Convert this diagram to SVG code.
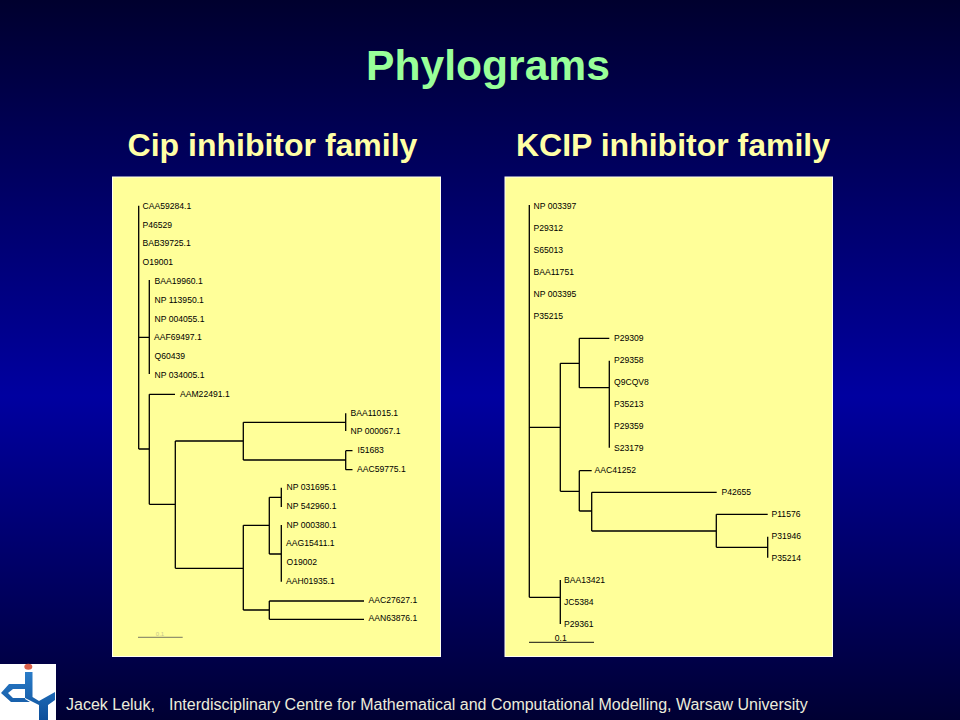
<svg xmlns="http://www.w3.org/2000/svg" width="960" height="720" viewBox="0 0 960 720">
<defs>
<linearGradient id="bg" x1="0" y1="0" x2="0" y2="1">
<stop offset="0" stop-color="#00002e"/>
<stop offset="0.55" stop-color="#0000a0"/>
<stop offset="1" stop-color="#000033"/>
</linearGradient>
<linearGradient id="logoBlue" x1="0" y1="0" x2="0" y2="1">
<stop offset="0" stop-color="#2a7cc8"/>
<stop offset="1" stop-color="#0d4f9a"/>
</linearGradient>
</defs>
<style>
.panel{fill:#ffff99;stroke:#fffff0;stroke-width:1}
.tree path{fill:none;stroke:#000;stroke-width:1.3}
.leaf{font:8.6px "Liberation Sans",Arial,sans-serif;fill:#000}
.head{font:bold 32px "Liberation Sans",Arial,sans-serif;fill:#ffffa6;text-anchor:middle}
</style>
<rect width="960" height="720" fill="url(#bg)"/>
<text x="488" y="80" text-anchor="middle" style="font:bold 42.6px 'Liberation Sans',Arial,sans-serif;fill:#99ff99">Phylograms</text>
<text class="head" x="272.500" y="156">Cip inhibitor family</text>
<text class="head" x="673" y="156">KCIP inhibitor family</text>
<g id="panel-cip">
<rect class="panel" x="112.500" y="177" width="328" height="479.500"/>
<g class="tree" id="connectors-cip"><path d="M138.700 205.700V449M138.700 337.300H149.300M149.300 280V374M138.700 449H149.300M149.300 394.300V504.300M149.300 394.300H175M149.300 504.300H175.300M175.300 441V568.300M175.300 441H243.300M243.300 422.300V460M243.300 422.300H345.700M345.700 413.300V431M243.300 460H345.700M345.700 450.700V469.700M345.700 450.700H352.500M345.700 469.700H352.500M175.300 568.300H243.300M243.300 525.300V610M243.300 525.300H269.300M269.300 497.300V554M269.300 497.300H281.300M281.300 487.700V507M269.300 554H281.300M281.300 525V581.700M243.300 610H269.300M269.300 601V619.300M269.300 601H364M269.300 619.300H364"/></g>
<path d="M138 637.300H182.700" stroke="#555" stroke-width="0.8" fill="none"/>
<text x="160" y="636" text-anchor="middle" style="font:6px 'Liberation Sans',Arial,sans-serif;fill:#c8c88c">0.1</text>
<g id="leaves-cip" transform="translate(0,-0.7)">
<text class="leaf" x="142.500" y="210">CAA59284.1</text>
<text class="leaf" x="142.500" y="228.800">P46529</text>
<text class="leaf" x="142.500" y="247">BAB39725.1</text>
<text class="leaf" x="142.500" y="265.800">O19001</text>
<text class="leaf" x="154.500" y="284.700">BAA19960.1</text>
<text class="leaf" x="154.500" y="303.500">NP 113950.1</text>
<text class="leaf" x="154.500" y="322.500">NP 004055.1</text>
<text class="leaf" x="154" y="340.800">AAF69497.1</text>
<text class="leaf" x="154.500" y="359.700">Q60439</text>
<text class="leaf" x="154.500" y="378.500">NP 034005.1</text>
<text class="leaf" x="180" y="397.500">AAM22491.1</text>
<text class="leaf" x="350.500" y="416.300">BAA11015.1</text>
<text class="leaf" x="350.500" y="434.500">NP 000067.1</text>
<text class="leaf" x="357.500" y="453.500">I51683</text>
<text class="leaf" x="357" y="472.500">AAC59775.1</text>
<text class="leaf" x="286.500" y="491">NP 031695.1</text>
<text class="leaf" x="286.500" y="510">NP 542960.1</text>
<text class="leaf" x="286.500" y="528.500">NP 000380.1</text>
<text class="leaf" x="286" y="547">AAG15411.1</text>
<text class="leaf" x="286.500" y="566">O19002</text>
<text class="leaf" x="286" y="585">AAH01935.1</text>
<text class="leaf" x="368.500" y="604">AAC27627.1</text>
<text class="leaf" x="368.500" y="622">AAN63876.1</text>
</g>
</g>
<g id="panel-kcip">
<rect class="panel" x="505" y="177" width="327.500" height="479.500"/>
<g class="tree" id="connectors-kcip"><path d="M529.300 205V597.300M529.300 427.300H560.300M560.300 363.300V491.300M560.300 363.300H579.300M579.300 338.300V387.700M579.300 338.300H609.300M579.300 387.700H609.300M609.300 360.700V447.700M560.300 491.300H579.300M579.300 470.700V511M579.300 470.700H591.700M579.300 511H591.700M591.700 492.300V531M591.700 492.300H716.700M591.700 531H716.300M716.300 514.300V547.300M716.300 514.300H767.700M716.300 547.300H767.700M767.700 536.700V557.700M529.300 597.300H560.300M560.300 580V624"/></g>
<path d="M529 642.300H594" stroke="#111" stroke-width="1" fill="none"/>
<text class="leaf" x="560.700" y="640.500" text-anchor="middle">0.1</text>
<g id="leaves-kcip" transform="translate(0,-0.7)">
<text class="leaf" x="533.500" y="210">NP 003397</text>
<text class="leaf" x="533.500" y="232">P29312</text>
<text class="leaf" x="533.500" y="254">S65013</text>
<text class="leaf" x="533.500" y="276">BAA11751</text>
<text class="leaf" x="533.500" y="298">NP 003395</text>
<text class="leaf" x="533.500" y="320">P35215</text>
<text class="leaf" x="614" y="342">P29309</text>
<text class="leaf" x="614" y="364">P29358</text>
<text class="leaf" x="614" y="386">Q9CQV8</text>
<text class="leaf" x="614" y="408">P35213</text>
<text class="leaf" x="614" y="430">P29359</text>
<text class="leaf" x="614" y="452">S23179</text>
<text class="leaf" x="594.500" y="474">AAC41252</text>
<text class="leaf" x="721.500" y="496">P42655</text>
<text class="leaf" x="771.500" y="518">P11576</text>
<text class="leaf" x="771.500" y="540">P31946</text>
<text class="leaf" x="771.500" y="562">P35214</text>
<text class="leaf" x="564" y="584">BAA13421</text>
<text class="leaf" x="564" y="606">JC5384</text>
<text class="leaf" x="564" y="628">P29361</text>
</g>
</g>
<g id="logo">
<rect x="0" y="664" width="56" height="56" fill="#fff"/>
<ellipse cx="28.300" cy="666.800" rx="4" ry="3" fill="#d9604a"/>
<path d="M25 672H32.500V697L39 701L55 692V700L48 705V720H39V705L25 698H13L8 693L13 689H25V684H9L1 693L11 702H30L25 699Z" fill="url(#logoBlue)"/>
</g>
<text y="710" style="font:16px 'Liberation Sans',Arial,sans-serif;fill:#ececdc"><tspan x="66">Jacek Leluk,</tspan><tspan x="169">Interdisciplinary Centre for Mathematical and Computational Modelling, Warsaw University</tspan></text>
</svg>
